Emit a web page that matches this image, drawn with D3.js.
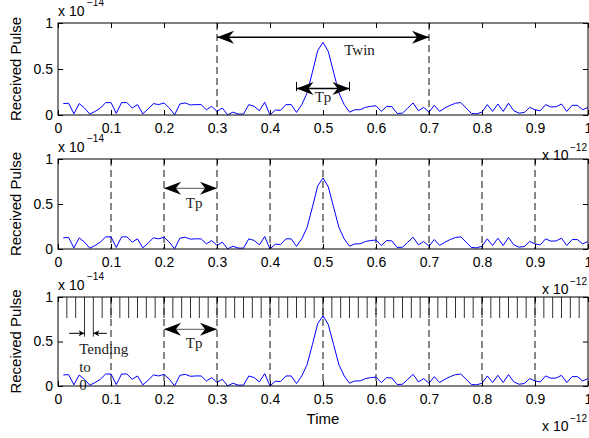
<!DOCTYPE html>
<html>
<head>
<meta charset="utf-8">
<script src="https://cdn.jsdelivr.net/npm/d3@7"></script>
<style>
body { margin: 0; background: #fff; }
svg { display: block; }
</style>
</head>
<body>
<svg width="589" height="438"></svg>
<script>
const width = 589, height = 438;
const plotLeft = 58, plotRight = 588;
const panels = [
    {top: 23, bottom: 115},
    {top: 159, bottom: 249},
    {top: 297, bottom: 386}
];
const sansFont = "'Liberation Sans', Arial, Helvetica, sans-serif";
const serifFont = "'Liberation Serif', 'Times New Roman', serif";

// sample times (x 10^-12 s)
const time = d3.range(1, 101).map(i => i / 100);

// received pulse (x 10^-14)
const pulse = [
    0.124, 0.128, 0.013, 0.124, 0.076, 0.009, 0.039, 0.076, 0.135, 0.135,
    0.017, 0.135, 0.135, 0.076, 0.113, 0.013, 0.065, 0.124, 0.113, 0.131,
    0.076, 0.002, 0.120, 0.131, 0.109, 0.113, 0.113, 0.057, 0.094, 0.039,
    0.076, 0.002, 0.031, 0.010, 0.010, 0.113, 0.095, 0.046, 0.139, 0.000,
    0.054, 0.050, 0.113, 0.113, 0.028, 0.113, 0.240, 0.465, 0.700, 0.790,
    0.690, 0.465, 0.240, 0.113, 0.031, 0.057, 0.057, 0.083, 0.094, 0.100,
    0.039, 0.094, 0.090, 0.017, 0.020, 0.076, 0.131, 0.046, 0.083, 0.031,
    0.105, 0.039, 0.076, 0.105, 0.128, 0.135, 0.076, 0.017, 0.013, 0.031,
    0.113, 0.039, 0.120, 0.039, 0.128, 0.046, 0.020, 0.028, 0.083, 0.057,
    0.046, 0.113, 0.087, 0.090, 0.120, 0.039, 0.105, 0.105, 0.057, 0.083
];

const xTicks = [0, 0.1, 0.2, 0.3, 0.4, 0.5, 0.6, 0.7, 0.8, 0.9, 1];
const yTicks = [0, 0.5, 1];

// annotation marks
const twinLines = [0.3, 0.7];
const gridLines = [0.1, 0.2, 0.3, 0.4, 0.5, 0.6, 0.7, 0.8, 0.9];
const pulseTrain = d3.range(1, 60).map(k => k / 60);
const tendingPair = [0.05, 0.0667];

const svg = d3.select("svg");
const x = d3.scaleLinear().domain([0, 1]).range([plotLeft, plotRight]);

function arrowHead(g, tx, ty, dir, len, half, color) {
    g.append("path")
        .attr("d", `M${tx},${ty} L${tx - dir * len},${ty - half} L${tx - dir * len * 0.7},${ty} L${tx - dir * len},${ty + half} Z`)
        .attr("fill", color);
}

function doubleArrow(g, y, x1, x2, yv, stem) {
    const px1 = x(x1), px2 = x(x2), py = y(yv);
    g.append("line")
        .attr("x1", px1).attr("x2", px2)
        .attr("y1", py).attr("y2", py)
        .attr("stroke", stem).attr("stroke-width", 1.3);
    arrowHead(g, px1, py, -1, 17, 6.5, "#000");
    arrowHead(g, px2, py, 1, 17, 6.5, "#000");
}

function serifText(g, px, py, str, anchor) {
    g.append("text")
        .attr("x", px).attr("y", py)
        .attr("text-anchor", anchor || "start")
        .attr("font-family", serifFont)
        .attr("font-size", 15)
        .attr("fill", "#222")
        .text(str);
}

panels.forEach((p, i) => {
    const y = d3.scaleLinear().domain([0, 1]).range([p.bottom, p.top]);
    const g = svg.append("g");

    // dashed markers
    const dashes = i === 0 ? twinLines : gridLines;
    g.append("g")
        .selectAll("line")
        .data(dashes)
        .join("line")
            .attr("x1", d => x(d)).attr("x2", d => x(d))
            .attr("y1", y(1)).attr("y2", y(0))
            .attr("stroke", "#111")
            .attr("stroke-width", 1)
            .attr("stroke-dasharray", "7,4");

    if (i === 2) {
        // pulse train
        g.append("g")
            .selectAll("line")
            .data(pulseTrain)
            .join("line")
                .attr("x1", d => x(d)).attr("x2", d => x(d))
                .attr("y1", y(1))
                .attr("y2", (d, k) => (k === 2 || k === 3) ? y(0.554) : y(0.764))
                .attr("stroke", "#333")
                .attr("stroke-width", 1);

        // "tending to 0" arrows
        const ay = y(0.592);
        g.append("line")
            .attr("x1", x(0.021)).attr("x2", x(tendingPair[0]))
            .attr("y1", ay).attr("y2", ay)
            .attr("stroke", "#000").attr("stroke-width", 1);
        arrowHead(g, x(tendingPair[0]), ay, 1, 6, 3, "#000");
        g.append("line")
            .attr("x1", x(0.092)).attr("x2", x(tendingPair[1]))
            .attr("y1", ay).attr("y2", ay)
            .attr("stroke", "#000").attr("stroke-width", 1);
        arrowHead(g, x(tendingPair[1]), ay, -1, 6, 3, "#000");

        serifText(g, x(0.04), y(0.36), "Tending");
        serifText(g, x(0.04), y(0.157), "to");
        serifText(g, x(0.04), y(-0.045), "0");
    }

    // received pulse
    const line = d3.line()
        .x((d, k) => x(time[k]))
        .y(d => y(d));
    g.append("path")
        .datum(pulse)
        .attr("d", line)
        .attr("fill", "none")
        .attr("stroke", "#0000ff")
        .attr("stroke-width", 1);

    // arrows and labels
    if (i === 0) {
        doubleArrow(g, y, 0.3, 0.7, 0.845, "#000");
        serifText(g, x(0.54), y(0.652), "Twin");
        g.append("g")
            .selectAll("line")
            .data([0.45, 0.55])
            .join("line")
                .attr("x1", d => x(d)).attr("x2", d => x(d))
                .attr("y1", y(0.36)).attr("y2", y(0.26))
                .attr("stroke", "#000").attr("stroke-width", 1);
        doubleArrow(g, y, 0.45, 0.55, 0.288, "#000");
        serifText(g, x(0.5), y(0.141), "Tp", "middle");
    } else {
        const ty = i === 1 ? 0.674 : 0.637;
        doubleArrow(g, y, 0.2, 0.3, ty, "#777");
        serifText(g, x(0.257), y(i === 1 ? 0.461 : 0.427), "Tp", "middle");
    }

    // axes (ticks pointing inward)
    const fixAxis = a => {
        a.select(".domain").remove();
        a.attr("font-family", sansFont).attr("font-size", 14);
        a.selectAll("text").attr("fill", "#000");
    };
    g.append("g")
        .attr("transform", `translate(0,${p.bottom})`)
        .call(d3.axisBottom(x).tickValues(xTicks).tickSize(-5).tickPadding(8).tickFormat(d => d))
        .call(fixAxis);
    g.append("g")
        .attr("transform", `translate(0,${p.top})`)
        .call(d3.axisTop(x).tickValues(xTicks).tickSize(-5).tickFormat(""))
        .call(fixAxis);
    g.append("g")
        .attr("transform", `translate(${plotLeft},0)`)
        .call(d3.axisLeft(y).tickValues(yTicks).tickSize(-5).tickPadding(5).tickFormat(d => d))
        .call(fixAxis);
    g.append("g")
        .attr("transform", `translate(${plotRight},0)`)
        .call(d3.axisRight(y).tickValues(yTicks).tickSize(-5).tickFormat(""))
        .call(fixAxis);

    g.append("rect")
        .attr("x", plotLeft).attr("y", p.top)
        .attr("width", plotRight - plotLeft)
        .attr("height", p.bottom - p.top)
        .attr("fill", "none")
        .attr("stroke", "#000")
        .attr("stroke-width", 1);

    // y label
    g.append("text")
        .attr("transform", `translate(21,${(p.top + p.bottom) / 2}) rotate(-90)`)
        .attr("text-anchor", "middle")
        .attr("font-family", sansFont)
        .attr("font-size", 15)
        .text("Received Pulse");

    // y multiplier
    g.append("text")
        .attr("x", plotLeft).attr("y", p.top - 7)
        .attr("font-family", sansFont).attr("font-size", 14)
        .text("x 10");
    g.append("text")
        .attr("x", plotLeft + 29).attr("y", p.top - 17)
        .attr("font-family", sansFont).attr("font-size", 10)
        .text("\u221214");

    // x multiplier
    g.append("text")
        .attr("x", 542).attr("y", p.bottom + 45)
        .attr("font-family", sansFont).attr("font-size", 14)
        .text("x 10");
    g.append("text")
        .attr("x", 570).attr("y", p.bottom + 36)
        .attr("font-family", sansFont).attr("font-size", 10)
        .text("\u221212");
});

svg.append("text")
    .attr("x", (plotLeft + plotRight) / 2)
    .attr("y", panels[2].bottom + 38)
    .attr("text-anchor", "middle")
    .attr("font-family", sansFont)
    .attr("font-size", 15)
    .text("Time");
</script>
</body>
</html>
